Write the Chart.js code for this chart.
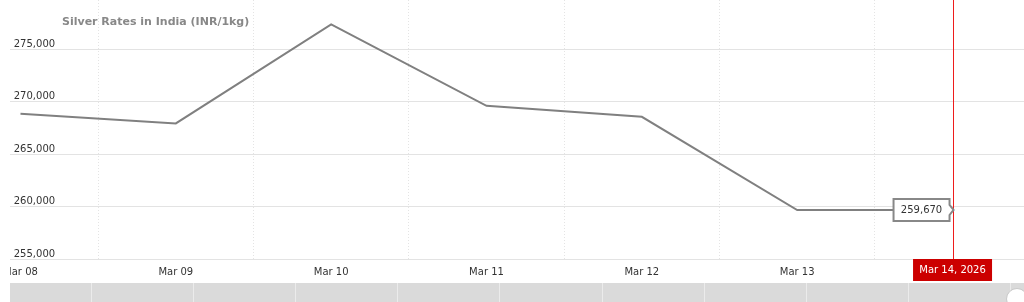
<!DOCTYPE html>
<html>
<head>
<meta charset="utf-8">
<script src="https://cdn.jsdelivr.net/npm/chart.js@4"></script>
<style>
  html, body { margin: 0; padding: 0; background: #fff; }
  body { width: 1024px; height: 302px; position: relative; overflow: hidden; }
  #wrap { position: absolute; left: 10px; top: 0; width: 1014px; height: 302px; overflow: hidden; }
  #box { position: absolute; left: -14px; top: -10px; width: 1028px; height: 295px; }
  #title {
    position: absolute; left: 62px; top: 15px; margin: 0;
    font: bold 11px/13px 'DejaVu Sans', Verdana, sans-serif; color: #888;
  }
  #nav {
    position: absolute; left: 10px; top: 283px; width: 1014px; height: 19px;
    background: repeating-linear-gradient(90deg, #dadada 0, #dadada 81px, #ebebeb 81px, #ebebeb 82px, #dadada 82px, #dadada 102.1px);
  }
  #knob {
    position: absolute; left: 1006px; top: 288px; width: 22px; height: 22px;
    border-radius: 50%; background: #fff; border: 1px solid #c8c8c8; box-sizing: border-box;
  }
</style>
</head>
<body>
<div id="wrap">
  <div id="box"><canvas id="silverChart"></canvas></div>
</div>
<div id="title">Silver Rates in India (INR/1kg)</div>
<div id="nav"></div>
<div id="knob"></div>
<script>
const categories = ['Mar 08', 'Mar 09', 'Mar 10', 'Mar 11', 'Mar 12', 'Mar 13', 'Mar 14'];
const prices = [268850, 267920, 277360, 269600, 268550, 259670, 259670];
const yTicks = [255000, 260000, 265000, 270000, 275000];
const year = '2026';

Chart.defaults.font.family = "'DejaVu Sans', Verdana, sans-serif";
Chart.defaults.font.size = 10;
Chart.defaults.color = '#333';

// crosshair, value flag and date flag on the last point
const lastPointFlag = {
  id: 'lastPointFlag',
  afterDatasetsDraw(chart) {
    const { ctx, chartArea } = chart;
    const pts = chart.getDatasetMeta(0).data;
    const i = pts.length - 1;
    const p = pts[i];

    ctx.save();
    ctx.fillStyle = '#ee1c1c';
    ctx.fillRect(Math.round(p.x), chartArea.top, 1, chartArea.bottom - chartArea.top);

    // value box with little arrow to the right
    const r = p.x - 3, w = 56, h = 22, top = p.y - h / 2;
    ctx.beginPath();
    ctx.moveTo(r - w, top);
    ctx.lineTo(r, top);
    ctx.lineTo(r, p.y - 5);
    ctx.lineTo(r + 4, p.y);
    ctx.lineTo(r, p.y + 5);
    ctx.lineTo(r, top + h);
    ctx.lineTo(r - w, top + h);
    ctx.closePath();
    ctx.fillStyle = '#fff';
    ctx.fill();
    ctx.strokeStyle = '#888';
    ctx.lineWidth = 2;
    ctx.stroke();
    ctx.fillStyle = '#333';
    ctx.font = "10px 'DejaVu Sans', Verdana, sans-serif";
    ctx.textAlign = 'center';
    ctx.textBaseline = 'middle';
    ctx.fillText(prices[i].toLocaleString('en-US'), r - w / 2, p.y + 0.5);

    // date box under the axis
    const bw = 79, bh = 22;
    ctx.fillStyle = '#cc0000';
    ctx.fillRect(p.x - bw / 2, chartArea.bottom, bw, bh);
    ctx.fillStyle = '#fff';
    ctx.fillText(categories[i] + ', ' + year, p.x, chartArea.bottom + bh / 2 + 0.5);
    ctx.restore();
  }
};

const ctx = document.getElementById('silverChart').getContext('2d');
new Chart(ctx, {
  type: 'line',
  data: {
    datasets: [{
      data: prices.map((v, i) => ({ x: i, y: v })),
      borderColor: '#808080',
      borderWidth: 2,
      pointRadius: 0,
      tension: 0,
      fill: false,
    }],
  },
  options: {
    responsive: true,
    maintainAspectRatio: false,
    animation: false,
    layout: { autoPadding: false, padding: 0 },
    plugins: { legend: { display: false }, tooltip: { enabled: false } },
    scales: {
      x: {
        type: 'linear',
        min: -0.069,
        max: 6.46,
        afterBuildTicks(scale) {
          const t = [];
          for (let v = 0; v <= 6; v += 0.5) t.push({ value: v });
          scale.ticks = t;
        },
        grid: {
          drawTicks: false,
          color: c => (c.tick && c.tick.value % 1 !== 0 ? '#e4e4e4' : 'rgba(0,0,0,0)'),
        },
        border: { display: false, dash: [1, 2] },
        ticks: {
          autoSkip: false,
          maxRotation: 0,
          padding: 7,
          color: '#333',
          callback: v => (v % 1 === 0 && v < categories.length - 1 ? categories[v] : ''),
        },
      },
      y: {
        min: 255000,
        max: 279680,
        afterBuildTicks(scale) {
          scale.ticks = yTicks.map(v => ({ value: v }));
        },
        grid: { drawTicks: false, color: '#e3e3e3' },
        border: { display: false },
        ticks: {
          mirror: true,
          padding: 4,
          labelOffset: -5,
          color: '#333',
          callback: v => v.toLocaleString('en-US'),
        },
      },
    },
  },
  plugins: [lastPointFlag],
});
</script>
</body>
</html>
